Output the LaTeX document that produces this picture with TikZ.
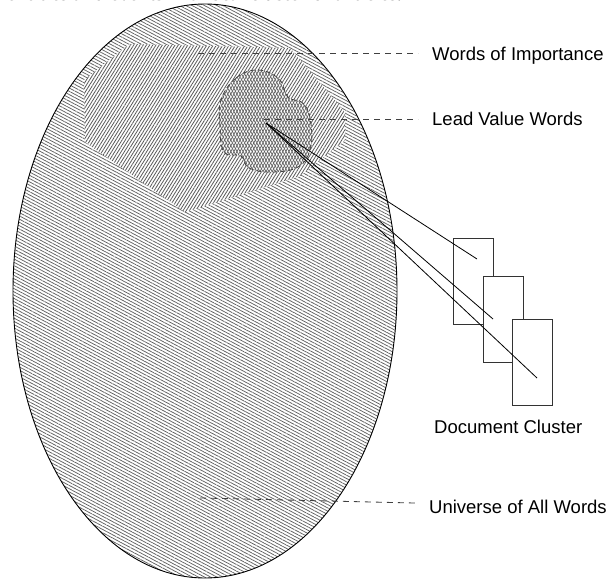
\documentclass[tikz,border=0pt]{standalone}
\usepackage{fontspec}
\setmainfont{Liberation Serif}
\newfontfamily\labelfont{Liberation Sans}
\usetikzlibrary{patterns.meta}
\begin{document}
\begin{tikzpicture}[x=1pt,y=-1pt,
  lbl/.style={font=\labelfont\fontsize{18.5}{20}\selectfont, anchor=base west, inner sep=0pt},
  leader/.style={draw=black!75, line width=0.8pt, dash pattern=on 6pt off 5pt},
  docbox/.style={draw=black!80, fill=white, line width=0.9pt, minimum width=40pt, minimum height=86pt, inner sep=0pt},
  ray/.style={draw=black, line width=0.8pt},
  univfill/.style={pattern={Lines[angle=-28,distance=2.9pt,line width=0.75pt]}, pattern color=black!62},
  woifill/.style={pattern={Lines[angle=58,distance=2.7pt,line width=0.8pt]}, pattern color=black!65},
  leadfillA/.style={pattern={Lines[angle=62,distance=2.7pt,line width=0.7pt]}, pattern color=black!62},
  leadfillB/.style={pattern={Lines[angle=118,distance=2.7pt,line width=0.7pt]}, pattern color=black!62}]
\useasboundingbox (0,0) rectangle (608,580);
\clip (0,0) rectangle (608,580);
\fill[white] (0,0) rectangle (608,580);
% clipped caption line from the page above
\node[font=\bfseries\fontsize{20}{21}\selectfont, anchor=base east, inner sep=0pt] (cap) at (402,1) {entities and events in a local cluster of articles.};
% universe of all words
\path[univfill] (205,291) ellipse [x radius=192, y radius=287];
\draw[line width=0.9pt] (205,291) ellipse [x radius=192, y radius=287];
% words of importance
\fill[white] (84,80) -- (130,44) -- (290,48) -- (345,112) -- (345,140) -- (300,176) -- (185,212) -- (85,142) -- cycle;
\path[woifill] (84,80) -- (130,44) -- (290,48) -- (345,112) -- (345,140) -- (300,176) -- (185,212) -- (85,142) -- cycle;
% lead value words
\def\blob{plot[smooth cycle, tension=0.7] coordinates {(221,100) (236,78) (258,70) (279,79) (288,97) (304,104) (311,124) (310,150) (298,167) (272,172) (249,168) (241,156) (224,152) (220,126)}}
\fill[white] \blob;
\path[leadfillA] \blob;
\path[leadfillB] \blob;
\draw[black!75, line width=0.8pt, dash pattern=on 5pt off 3pt] \blob;
% document cluster
\node[docbox] (d1) at (473,281) {};
\node[docbox] (d2) at (503,319) {};
\node[docbox] (d3) at (532,362) {};
\coordinate (src) at (266,123);
\coordinate (e1) at (477,259);
\coordinate (e2) at (493,319);
\coordinate (e3) at (537,378);
\draw[ray] (src) -- (e1);
\draw[ray] (src) -- (e2);
\draw[ray] (src) -- (e3);
% labels
\node[lbl] (woi) at (432,61) {Words of Importance};
\node[lbl] (lvw) at (432,126) {Lead Value Words};
\node[lbl] (dc) at (434,433) {Document Cluster};
\node[lbl] (uni) at (429,513) {Universe of All Words};
\coordinate (w0) at (198,53);
\coordinate (l0) at (264,119);
\coordinate (u0) at (200,498);
\coordinate (u1) at (415,503);
\draw[leader] (w0) -- ([xshift=-14pt]w0 -| woi.west);
\draw[leader] (l0) -- ([xshift=-14pt]l0 -| lvw.west);
\draw[leader] (u0) -- (u1);
\end{tikzpicture}
\end{document}
